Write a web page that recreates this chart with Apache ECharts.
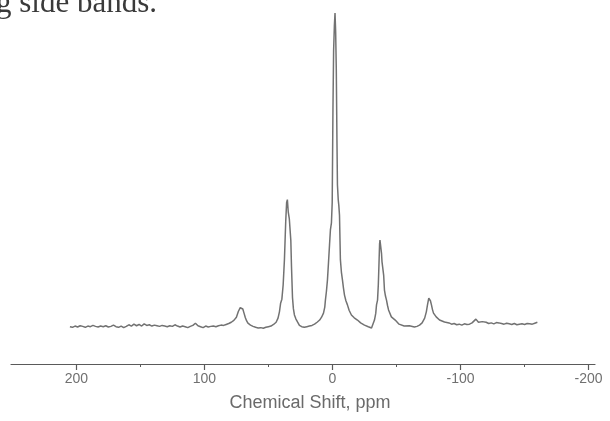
<!DOCTYPE html>
<html>
<head>
<meta charset="utf-8">
<script src="https://cdn.jsdelivr.net/npm/echarts@6/dist/echarts.min.js"></script>
<style>html,body{margin:0;padding:0;background:#fff;}#c{width:610px;height:421px;}</style>
</head>
<body>
<div id="c"></div>
<script>
// Chemical shift (ppm) and relative intensity
var shifts = [205,203,201,199,197,195,193,191,189,187,185,183,181,179,177,175,173,171,169,167,165,163,161,159,157,155,153,151,149,147,145,143,141,139,137,135,133,131,129,127,125,123,121,119,117,115,113,111,109,107,105,103,101,99,97,95,93,91,89,87,85,83,81,79,77,75,73.5,72,71,70,69,68,67,66,64,62,60,58,56,54,52,50,48,46,44,42.5,41.4,40.5,39.5,38.5,37.5,36.5,35.8,35.2,34.5,33.7,33.0,32.5,32,31.2,30.5,29.7,28.5,27.3,25.8,24,22,20,18,16,14,12,10,8.5,7,6,5.5,4.7,3.9,3.1,2.3,1.6,0.8,0.2,-0.4,-0.9,-1.5,-2.0,-2.5,-3.0,-3.5,-3.9,-4.5,-5.0,-5.5,-6.2,-7.0,-7.8,-8.6,-9.4,-10.5,-11.7,-13,-14.8,-17,-19.5,-22,-25,-28,-30.5,-31.8,-32.8,-33.8,-34.4,-35.2,-35.8,-36.3,-36.8,-37.1,-37.5,-37.9,-38.3,-38.7,-39.5,-40,-40.6,-41.4,-42.2,-43,-43.8,-46,-49,-52,-56,-60,-64,-66,-68,-70,-72,-73.3,-74.2,-75.2,-75.8,-76.5,-77.3,-78.1,-78.9,-81,-83.6,-85,-87.5,-89,-91,-93,-95,-97,-99,-101,-103,-105,-107,-109,-110.5,-112,-113,-114,-115.5,-117,-118.5,-120,-122,-124,-126,-128,-130,-132,-134,-136,-138,-140,-142,-144,-146,-148,-150,-152,-154,-156,-158,-160];
var intensity = [0.8,0.6,1.0,0.7,1.1,0.9,0.6,1.0,0.8,1.2,0.9,0.7,1.0,0.8,1.1,0.7,0.9,1.3,0.8,0.6,1.0,0.5,0.9,1.4,1.0,1.6,1.1,1.5,1.0,1.7,1.2,1.4,1.0,1.3,1.1,0.9,1.2,1.0,0.8,1.1,0.9,1.4,1.0,0.7,1.0,0.8,0.5,0.9,1.2,1.9,1.1,0.8,0.5,1.0,0.7,0.9,1.0,0.8,1.1,1.3,1.2,1.5,1.8,2.2,2.8,3.8,5.6,6.8,7.0,6.4,5.0,3.6,2.6,1.9,1.3,0.9,0.6,0.4,0.5,0.3,0.6,0.8,1.0,1.5,2.2,3.5,5.5,8.2,9.5,14,22,34,40,41,37,35,34.5,28,20,10,6.5,4.5,3.2,2.3,1.2,0.8,0.6,0.8,1.0,1.2,1.6,2.2,2.9,3.8,5.1,7.0,9.2,12,15.6,21,26.6,31.4,33.6,40,70,88,96,100,94,82,60,45.6,41,39,36,22,18,15.6,13,10.8,9,7.7,6,4.5,3.6,2.9,2.0,1.3,0.8,0.4,1.0,2.9,5.0,7.7,9.2,14,20.3,27,28.2,28.0,28.2,24,21.3,21.3,17,12.4,10.5,9.2,7.5,6.1,3.9,2.9,1.6,1.0,1.1,0.7,0.9,1.3,2.0,3.5,5.5,7.7,9.8,10.2,9.0,7.7,6.2,5.1,3.9,2.9,2.6,2.3,2.1,2.0,1.6,1.8,1.4,1.6,1.3,1.7,1.5,1.6,2.0,2.6,3.2,3.0,2.2,1.8,2.4,2.9,2.2,1.8,2.0,1.7,2.1,2.0,1.8,1.6,1.9,1.7,1.5,1.8,1.4,1.6,1.7,1.5,1.8,1.7,1.6,1.9,2.2];
var majorTicks = [200,100,0,-100,-200];
var minorTicks = [150,50,-50,-150];
var axisTitle = 'Chemical Shift, ppm';
var captionText = 'g side bands.';

var data = shifts.map(function (s, i) { return [s, intensity[i]]; });
var chart = echarts.init(document.getElementById('c'));
chart.setOption({
  animation: false,
  backgroundColor: '#ffffff',
  grid: { left: 11, right: 15, top: 13, bottom: 57 },
  xAxis: [{
    type: 'value', inverse: true, min: -205, max: 251, position: 'bottom',
    splitLine: { show: false },
    axisLine: { onZero: false, lineStyle: { color: '#5a5a5a', width: 1.2 } },
    axisTick: { show: true, length: 6, customValues: majorTicks, lineStyle: { color: '#5a5a5a', width: 1.2 } },
    axisLabel: { customValues: majorTicks, color: '#707070', fontFamily: 'Liberation Sans, Arial', fontSize: 14, margin: 8 },
    name: axisTitle, nameLocation: 'middle', nameGap: 30,
    nameTextStyle: { color: '#6a6a6a', fontFamily: 'Liberation Sans, Arial', fontSize: 18, padding: [0, 0, 0, 14] }
  }, {
    type: 'value', inverse: true, min: -205, max: 251, position: 'bottom',
    splitLine: { show: false },
    axisLine: { show: false, onZero: false },
    axisTick: { show: true, length: 3, customValues: minorTicks, lineStyle: { color: '#5a5a5a', width: 1 } },
    axisLabel: { show: false }
  }],
  yAxis: { type: 'value', min: -11, max: 100, show: false },
  graphic: [{
    type: 'text', left: -4, top: -12,
    style: { text: captionText, font: '31px "Liberation Serif", "Times New Roman", serif', fill: '#3a3a3a' }
  }],
  series: [{
    type: 'line', data: data, xAxisIndex: 0, showSymbol: false, symbol: 'none',
    lineStyle: { color: '#727272', width: 1.5 }
  }]
});
</script>
</body>
</html>
